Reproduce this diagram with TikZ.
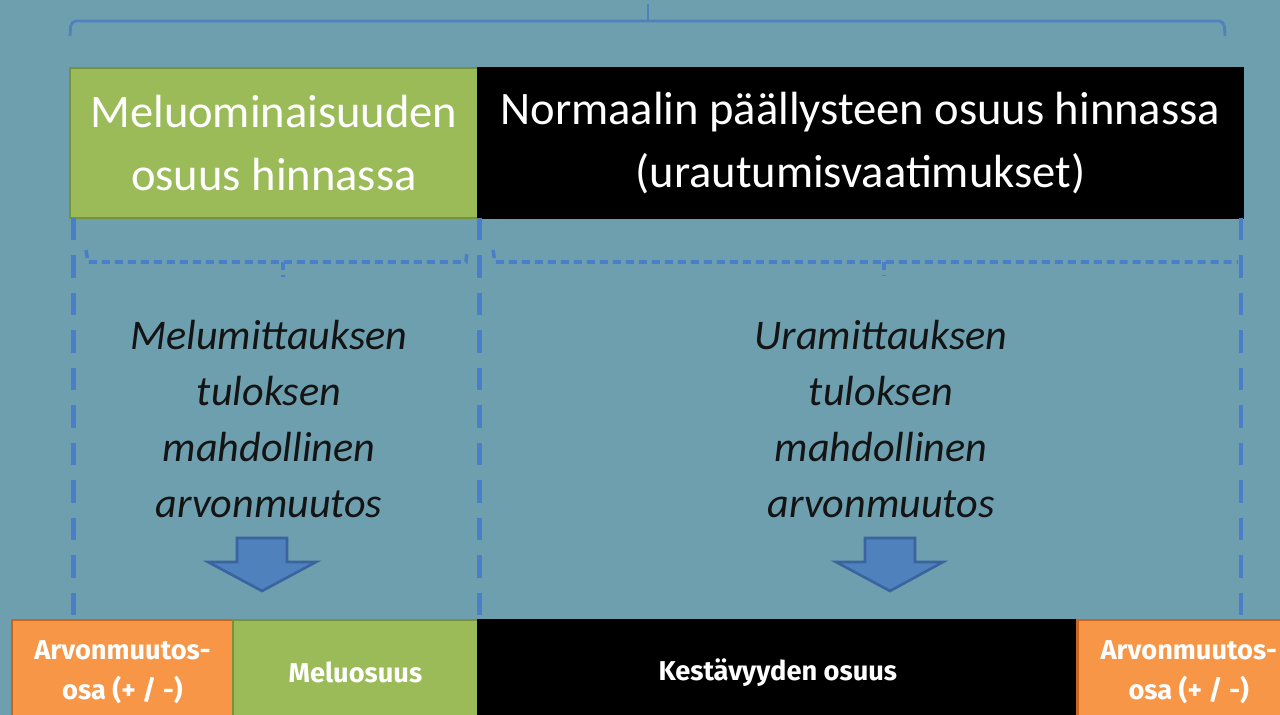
\documentclass[tikz,border=0pt]{standalone}
\usepackage{fontspec}
\setmainfont{Carlito}
\newfontfamily\barfont{Fira Sans}
\usetikzlibrary{positioning}

\definecolor{bgteal}{RGB}{110,159,174}
\definecolor{meluGreen}{RGB}{155,187,89}
\definecolor{meluEdge}{RGB}{118,146,60}
\definecolor{arvoOrange}{RGB}{247,150,70}
\definecolor{arvoEdge}{RGB}{205,100,30}
\definecolor{braceBlue}{RGB}{79,129,189}
\definecolor{guideBlue}{RGB}{74,126,200}
\definecolor{arrowEdge}{RGB}{58,100,160}
\definecolor{noteInk}{RGB}{20,20,20}

\begin{document}
\begin{tikzpicture}[x=0.02cm, y=-0.02cm,
    topbox/.style={draw, line width=1.5pt, inner sep=0pt, outer sep=0pt,
      minimum height=3cm, text=white, align=center,
      font=\fontsize{26.5}{36}\selectfont},
    barbox/.style={draw, line width=1.5pt, inner sep=0pt, outer sep=0pt,
      minimum height=2.1cm, text=white, align=center,
      font=\barfont\bfseries\fontsize{15.5}{23}\selectfont},
    guide/.style={guideBlue, line width=2.5pt, dash pattern=on 0.45cm off 0.3cm},
    dbrace/.style={guideBlue, line width=2pt, dash pattern=on 0.16cm off 0.1cm},
    note/.style={align=center, text=noteInk, font=\itshape\fontsize{24}{32}\selectfont},
    blockarrow/.style={fill=braceBlue, draw=arrowEdge, line width=1.5pt, line join=miter}]

  % background and frame
  \fill[bgteal] (0,0) rectangle (1280,715);
  \useasboundingbox (0,0) rectangle (1280,715);

  % top boxes
  \node[topbox, fill=meluGreen, draw=meluEdge, minimum width=8.16cm,
    anchor=north west] (melu) at (70,68) {Meluominaisuuden\\osuus hinnassa};
  \node[topbox, fill=black, minimum width=15.3cm, right=0pt of melu]
    (normaali) {Normaalin päällysteen osuus hinnassa\\(urautumisvaatimukset)};

  % bottom bar
  \node[barbox, fill=arvoOrange, draw=arvoEdge, minimum width=4.42cm,
    anchor=north west] (arvoL) at (12,620) {Arvonmuutos-\\osa (+ / -)};
  \node[barbox, fill=meluGreen, draw=meluEdge, minimum width=4.9cm,
    right=0pt of arvoL] (meluosa) {Meluosuus};
  \node[barbox, fill=black, minimum width=12cm, right=0pt of meluosa]
    (kesto) {Kestävyyden osuus};
  \node[barbox, fill=arvoOrange, draw=arvoEdge, minimum width=4.44cm,
    right=0pt of kesto] (arvoR) {Arvonmuutos-\\osa (+ / -)};

  % top brace
  \draw[braceBlue, line width=1.6pt, rounded corners=3pt]
    (70,36) -- (71,21) -- (1224,21) -- (1225,36);
  \draw[braceBlue, line width=1.6pt] (648,21) -- (648,4);

  % dashed guides
  \draw[guide] ([xshift=2pt]melu.south west) -- ([xshift=2pt]melu.south west |- arvoL.north);
  \draw[guide] ([xshift=1pt]melu.south east) -- ([xshift=1pt]melu.south east |- meluosa.north);
  \draw[guide] ([xshift=-1pt]normaali.south east) -- ([xshift=-1pt]normaali.south east |- arvoR.north);

  % dashed braces
  \draw[dbrace] (86,250) -- (88,262) -- (466,262) -- (467,250);
  \draw[dbrace] (283,262) -- (283,277);
  \draw[dbrace] (493,250) -- (495,262) -- (1238,262);
  \draw[dbrace] (884,262) -- (884,276);

  % notes
  \node[note] (melunote) at (269,419)
    {Melumittauksen\\tuloksen\\mahdollinen\\arvonmuutos};
  \node[note] (uranote) at (881,419)
    {Uramittauksen\\tuloksen\\mahdollinen\\arvonmuutos};

  % down arrows
  \draw[blockarrow] (237,538) -- (287,538) -- (287,562) -- (316,562) -- (262,591)
    -- (208,562) -- (237,562) -- cycle;
  \draw[blockarrow] (865,538) -- (915,538) -- (915,562) -- (943,562) -- (890,591)
    -- (836,562) -- (865,562) -- cycle;
\end{tikzpicture}
\end{document}
